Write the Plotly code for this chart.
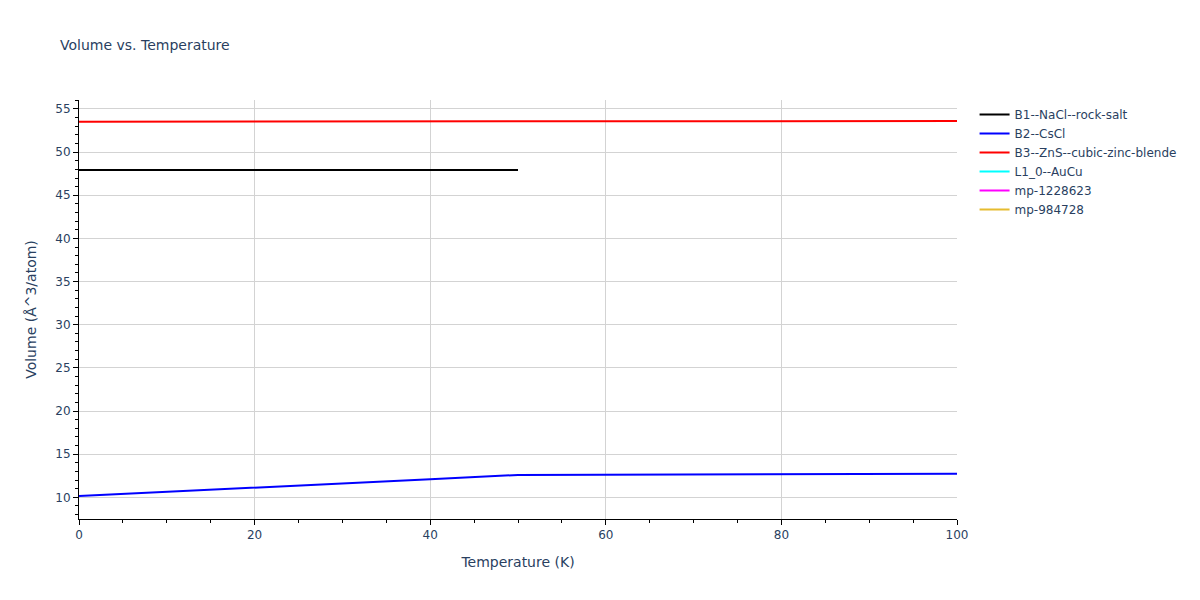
import plotly.graph_objects as go

temps_b1 = [0, 10, 20, 30, 40, 50]
vol_b1 = [47.93, 47.93, 47.93, 47.93, 47.93, 47.93]

temps_b2 = [0, 10, 20, 30, 40, 50, 60, 70, 80, 90, 100]
vol_b2 = [10.15, 10.62, 11.1, 11.6, 12.1, 12.6, 12.62, 12.65, 12.68, 12.70, 12.73]

temps_b3 = [0, 10, 20, 30, 40, 50, 60, 70, 80, 90, 100]
vol_b3 = [53.52, 53.53, 53.53, 53.54, 53.55, 53.56, 53.57, 53.58, 53.59, 53.60, 53.61]

names = ["B1--NaCl--rock-salt", "B2--CsCl", "B3--ZnS--cubic-zinc-blende",
         "L1_0--AuCu", "mp-1228623", "mp-984728"]
colors = ["black", "blue", "red", "cyan", "magenta", "#e6bc30"]

series = [(temps_b1, vol_b1), (temps_b2, vol_b2), (temps_b3, vol_b3),
          ([None], [None]), ([None], [None]), ([None], [None])]

fig = go.Figure()
for (x, y), n, c in zip(series, names, colors):
    fig.add_trace(go.Scatter(x=x, y=y, mode="lines", name=n, line=dict(color=c, width=2)))

fig.update_layout(
    width=1200, height=600,
    margin=dict(l=71, r=251, t=92, b=89),
    font=dict(family="Verdana, DejaVu Sans, sans-serif"),
    title=dict(text="Volume vs. Temperature", font=dict(size=14),
               x=52 / 1200, xanchor="left", y=1 - 37 / 600, yanchor="middle"),
    template="plotly_white",
    showlegend=True,
    xaxis=dict(title="Temperature (K)", range=[0, 100], showline=True, linecolor="black",
               ticks="outside", tickcolor="black", gridcolor="lightgrey",
               minor=dict(ticks="outside", dtick=5, tickcolor="black", showgrid=False)),
    yaxis=dict(title="Volume (Å^3/atom)", range=[7.49, 56.04], showline=True, linecolor="black",
               ticks="outside", tickcolor="black", gridcolor="lightgrey", dtick=5,
               minor=dict(ticks="outside", dtick=1, tickcolor="black", showgrid=False)),
)
fig.write_html("out.html")
